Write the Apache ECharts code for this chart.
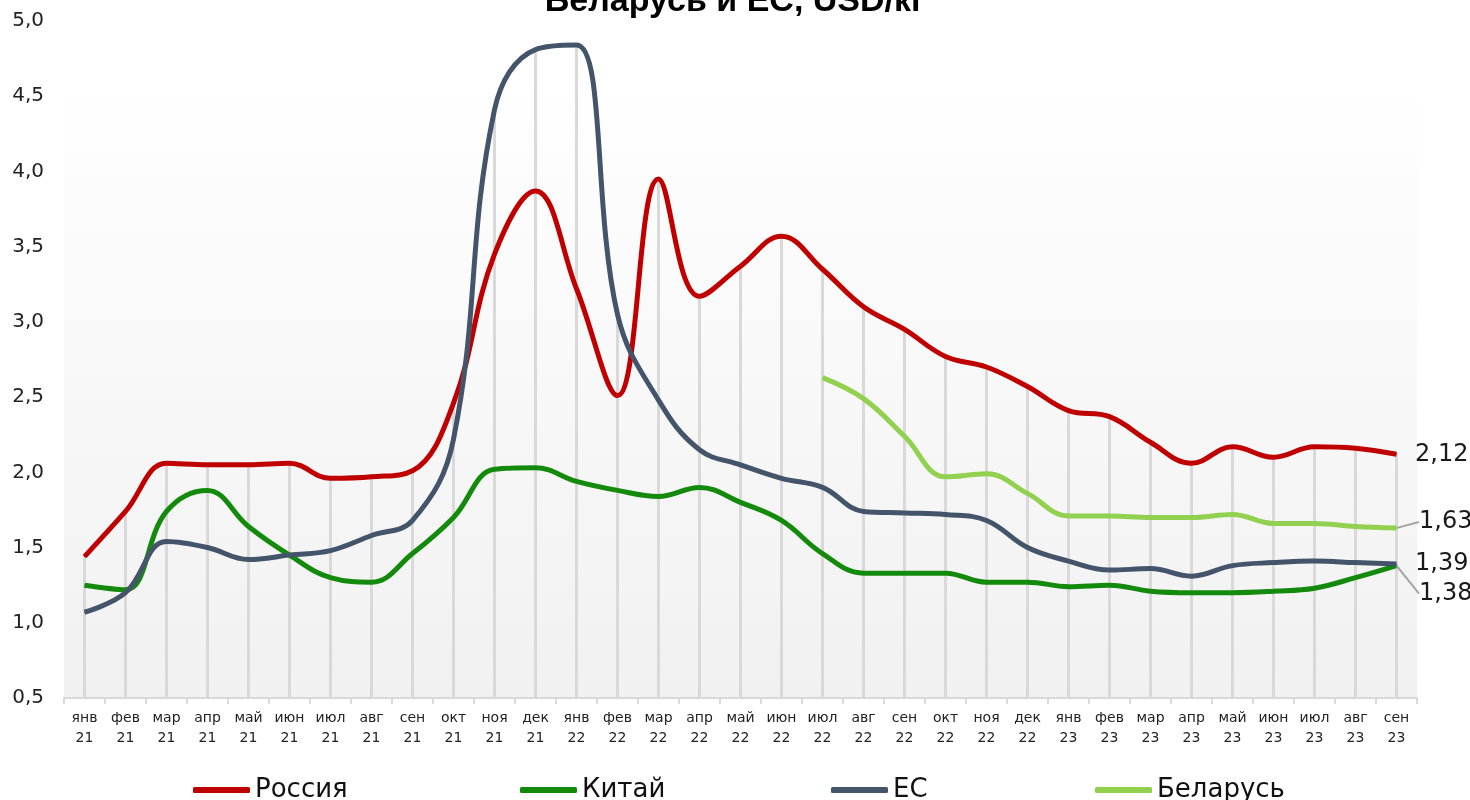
<!DOCTYPE html>
<html>
<head>
<meta charset="utf-8">
<script src="https://cdn.jsdelivr.net/npm/echarts@6/dist/echarts.min.js"></script>
<style>
html,body{margin:0;padding:0;background:#fff;}
#chart{width:1470px;height:800px;}
</style>
</head>
<body>
<div id="chart"></div>
<script>
const categories = ['янв\n21','фев\n21','мар\n21','апр\n21','май\n21','июн\n21','июл\n21','авг\n21','сен\n21','окт\n21','ноя\n21','дек\n21',
  'янв\n22','фев\n22','мар\n22','апр\n22','май\n22','июн\n22','июл\n22','авг\n22','сен\n22','окт\n22','ноя\n22','дек\n22',
  'янв\n23','фев\n23','мар\n23','апр\n23','май\n23','июн\n23','июл\n23','авг\n23','сен\n23'];
const russia = [1.44,1.74,2.06,2.05,2.05,2.06,1.96,1.97,2.01,2.46,3.45,3.87,3.22,2.51,3.95,3.17,3.37,3.57,3.35,3.10,2.95,2.77,2.70,2.57,2.41,2.37,2.20,2.06,2.17,2.10,2.17,2.16,2.12];
const china  = [1.25,1.22,1.74,1.88,1.64,1.45,1.30,1.27,1.46,1.70,2.02,2.03,1.94,1.88,1.84,1.90,1.80,1.68,1.46,1.33,1.33,1.33,1.27,1.27,1.24,1.25,1.21,1.20,1.20,1.21,1.23,1.30,1.38];
const eu     = [1.07,1.20,1.54,1.50,1.42,1.45,1.48,1.58,1.68,2.22,4.41,4.81,4.84,3.05,2.48,2.15,2.05,1.96,1.90,1.74,1.73,1.72,1.68,1.50,1.41,1.35,1.36,1.31,1.38,1.40,1.41,1.40,1.39];
const belarus = [null,null,null,null,null,null,null,null,null,null,null,null,null,null,null,null,null,null,
  2.63,2.49,2.24,1.97,1.99,1.86,1.71,1.71,1.70,1.70,1.72,1.66,1.66,1.64,1.63];
const yTicks = [0.5,1.0,1.5,2.0,2.5,3.0,3.5,4.0,4.5,5.0];
const seriesNames = ['Россия','Китай','ЕС','Беларусь'];
const titleText = 'Беларусь и ЕС, USD/кг';

const FONT = 'DejaVu Sans';
const dropLines = categories.map((c, i) => Math.max(...[russia[i], china[i], eu[i], belarus[i]].filter(v => v != null)));

function withEndLabel(arr, opts) {
  return arr.map((v, i) => {
    if (i === arr.length - 1) {
      return { value: v, label: Object.assign({ show: true, position: 'right', distance: 18,
        formatter: p => p.value.toFixed(2).replace('.', ','), fontFamily: FONT, fontSize: 24, color: '#1a1a1a' }, opts || {}) };
    }
    return v;
  });
}

const lineBase = {
  type: 'line', smooth: 0.4, symbol: 'circle', symbolSize: 1, showSymbol: true,
  connectNulls: false, z: 3
};

const legendText = { fontFamily: FONT, fontSize: 26, color: '#111' };
const chart = echarts.init(document.getElementById('chart'));
chart.setOption({
  animation: false,
  backgroundColor: '#ffffff',
  title: {
    text: titleText, left: 'center', top: -20,
    textStyle: { fontFamily: 'Liberation Sans', fontWeight: 'bold', fontSize: 34, color: '#000' }
  },
  grid: {
    left: 64, right: 53, top: 21, bottom: 102, show: true, borderWidth: 0,
    backgroundColor: new echarts.graphic.LinearGradient(0, 0, 0, 1, [
      { offset: 0, color: '#ffffff' }, { offset: 0.08, color: '#ffffff' }, { offset: 1, color: '#f1f1f1' }
    ])
  },
  legend: [
    { data: [seriesNames[0]], left: 188, top: 772, icon: 'roundRect', itemWidth: 57, itemHeight: 6, textStyle: legendText },
    { data: [seriesNames[1]], left: 515, top: 772, icon: 'roundRect', itemWidth: 57, itemHeight: 6, textStyle: legendText },
    { data: [seriesNames[2]], left: 826, top: 772, icon: 'roundRect', itemWidth: 57, itemHeight: 6, textStyle: legendText },
    { data: [seriesNames[3]], left: 1090, top: 772, icon: 'roundRect', itemWidth: 57, itemHeight: 6, textStyle: legendText }
  ],
  xAxis: {
    type: 'category', data: categories, boundaryGap: true,
    axisLine: { show: true, lineStyle: { color: '#d9d9d9', width: 2 } },
    axisTick: { show: true, length: 6, lineStyle: { color: '#d9d9d9', width: 2 } },
    axisLabel: { interval: 0, fontFamily: FONT, fontSize: 14, color: '#222', lineHeight: 20, margin: 10 },
    splitLine: { show: false }
  },
  yAxis: {
    type: 'value', min: 0.5, max: 5.0, interval: 0.5,
    axisLine: { show: false }, axisTick: { show: false },
    splitLine: { show: false },
    axisLabel: { fontFamily: FONT, fontSize: 20, color: '#222', margin: 20,
      formatter: v => yTicks.includes(Math.round(v * 10) / 10) ? v.toFixed(1).replace('.', ',') : '' }
  },
  series: [
    { name: 'drop', type: 'bar', data: dropLines, barWidth: 3, itemStyle: { color: '#d9d9d9' }, z: 1, silent: true, legendHoverLink: false },
    Object.assign({}, lineBase, { name: seriesNames[0], data: withEndLabel(russia), color: '#c00000', lineStyle: { width: 5, color: '#c00000' }, itemStyle: { color: '#c00000' } }),
    Object.assign({}, lineBase, { name: seriesNames[1], data: withEndLabel(china), color: '#148a0c', lineStyle: { width: 5, color: '#148a0c' }, itemStyle: { color: '#148a0c' },
      labelLayout: { dy: 28, dx: 4 }, labelLine: { show: true, lineStyle: { color: '#a6a6a6', width: 2 } } }),
    Object.assign({}, lineBase, { name: seriesNames[2], data: withEndLabel(eu), color: '#44546a', lineStyle: { width: 5, color: '#44546a' }, itemStyle: { color: '#44546a' } }),
    Object.assign({}, lineBase, { name: seriesNames[3], data: withEndLabel(belarus), color: '#92d050', lineStyle: { width: 5, color: '#92d050' }, itemStyle: { color: '#92d050' },
      labelLayout: { dy: -6, dx: 4 }, labelLine: { show: true, lineStyle: { color: '#a6a6a6', width: 2 } } })
  ]
});
</script>
</body>
</html>
